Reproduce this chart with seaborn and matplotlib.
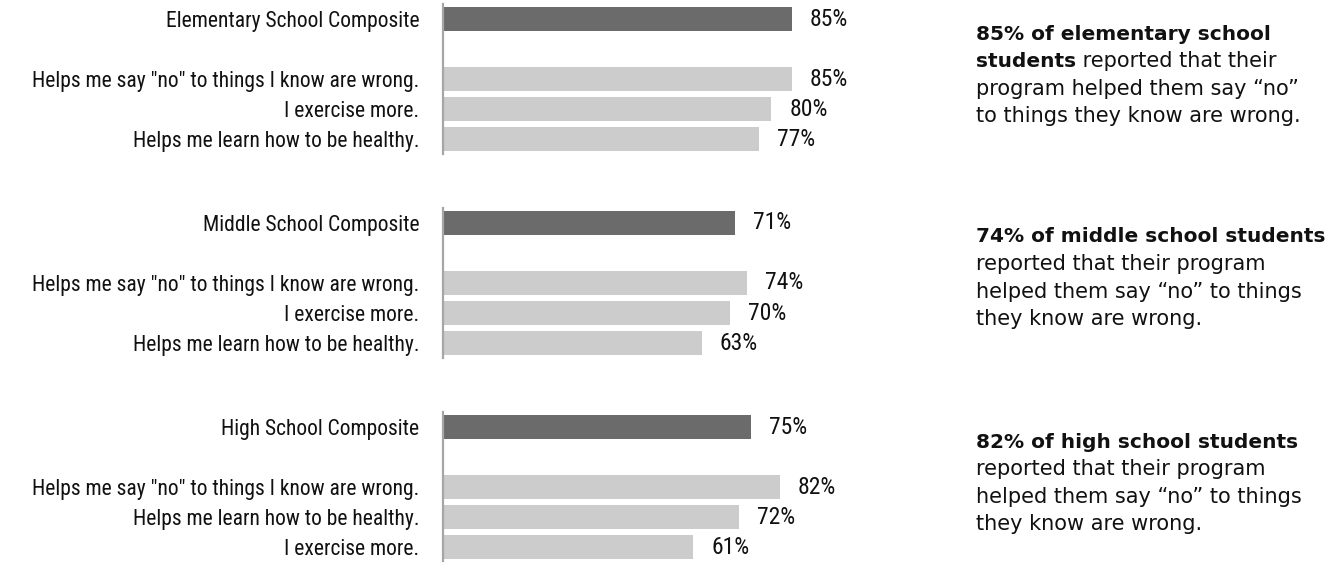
import matplotlib
matplotlib.use("Agg")
import matplotlib.pyplot as plt
from matplotlib import font_manager
import pandas as pd
import seaborn as sns

# Survey results by school level
groups = ["Elementary School Composite", "Middle School Composite", "High School Composite"]
composite_values = [85, 71, 75]
item_labels = [
    ['Helps me say "no" to things I know are wrong.', "I exercise more.", "Helps me learn how to be healthy."],
    ['Helps me say "no" to things I know are wrong.', "I exercise more.", "Helps me learn how to be healthy."],
    ['Helps me say "no" to things I know are wrong.', "Helps me learn how to be healthy.", "I exercise more."],
]
item_values = [
    [85, 80, 77],
    [74, 70, 63],
    [82, 72, 61],
]
callout_bold = [
    ["85% of elementary school", "students"],
    ["74% of middle school students"],
    ["82% of high school students"],
]
callout_rest = [
    [" reported that their", "program helped them say \u201cno\u201d", "to things they know are wrong."],
    ["reported that their program", "helped them say \u201cno\u201d to things", "they know are wrong."],
    ["reported that their program", "helped them say \u201cno\u201d to things", "they know are wrong."],
]

COMPOSITE_COLOR = "#6b6b6b"
ITEM_COLOR = "#cccccc"
AXIS_COLOR = "#a6a6a6"
TEXT_COLOR = "#111111"

sns.set_style("white")

available = {f.name for f in font_manager.fontManager.ttflist}
narrow = next((f for f in ["Liberation Sans Narrow", "DejaVu Sans Condensed", "Roboto Condensed"]
               if f in available), "DejaVu Sans")
plt.rcParams["font.family"] = [narrow, "DejaVu Sans"]

W, H = 1325, 562
fig = plt.figure(figsize=(W / 100, H / 100), dpi=100)

ax_left = 443 / W
ax_width = 410.6 / W
panel_h = 150
panel_tops = [4, 208, 412]

for g in range(3):
    top = panel_tops[g]
    ax = fig.add_axes([ax_left, 1 - (top + panel_h) / H, ax_width, panel_h / H])
    order = [groups[g], ""] + item_labels[g]
    df = pd.DataFrame({
        "label": [groups[g]] + item_labels[g],
        "pct": [composite_values[g]] + item_values[g],
    })
    palette = {groups[g]: COMPOSITE_COLOR}
    for lab in item_labels[g]:
        palette[lab] = ITEM_COLOR
    sns.barplot(data=df, x="pct", y="label", hue="label", order=order,
                palette=palette, legend=False, width=0.8, ax=ax,
                edgecolor="none", linewidth=0)
    ax.set_xlim(0, 100)
    ax.set_ylim(4.5, -0.5)
    ax.set_xlabel("")
    ax.set_ylabel("")
    ax.set_xticks([])
    for s in ["top", "right", "bottom"]:
        ax.spines[s].set_visible(False)
    ax.spines["left"].set_color(AXIS_COLOR)
    ax.spines["left"].set_linewidth(1.6)
    ax.tick_params(axis="y", length=0, pad=17, labelsize=15.5, labelcolor=TEXT_COLOR)

    for bar in ax.patches:
        w = bar.get_width()
        if w != w or w == 0:
            continue
        ax.annotate(f"{w:.0f}%", xy=(w, bar.get_y() + bar.get_height() / 2),
                    xytext=(13, 0), textcoords="offset points",
                    ha="left", va="center", fontsize=17, color=TEXT_COLOR)

# Callout text blocks on the right
text_x = 976 / W
line_h = 27.3
first_line_center = [34, 237, 442]
callout_font = "DejaVu Sans"
fs_bold = 14.5
fs_reg = 15
renderer = fig.canvas.get_renderer()
for g in range(3):
    y0 = first_line_center[g]
    bolds = callout_bold[g]
    rest = list(callout_rest[g])
    line = 0
    for i, b in enumerate(bolds):
        y = 1 - (y0 + line * line_h) / H
        t = fig.text(text_x, y, b, fontsize=fs_bold, fontweight="bold",
                     family=callout_font, color=TEXT_COLOR, ha="left", va="center")
        if i == len(bolds) - 1 and len(bolds) > 1:
            # the sentence continues in regular weight on the same line
            x_end = t.get_window_extent(renderer).x1 / W
            fig.text(x_end, y, rest.pop(0), fontsize=fs_reg, family=callout_font,
                     color=TEXT_COLOR, ha="left", va="center")
        line += 1
    for r in rest:
        fig.text(text_x, 1 - (y0 + line * line_h) / H, r, fontsize=fs_reg,
                 family=callout_font, color=TEXT_COLOR, ha="left", va="center")
        line += 1

fig.savefig("out.png", dpi=100)
